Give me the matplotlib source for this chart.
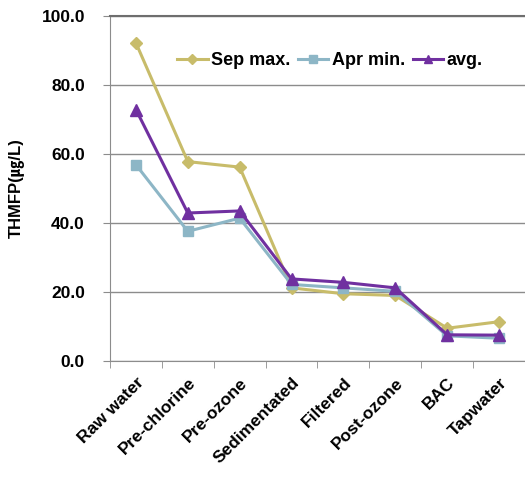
import matplotlib
matplotlib.use("Agg")
import matplotlib.pyplot as plt
import numpy as np

categories = ["Raw water", "Pre-chlorine", "Pre-ozone", "Sedimentated",
              "Filtered", "Post-ozone", "BAC", "Tapwater"]
sep_max = [92.2, 57.8, 56.2, 21.2, 19.5, 19.0, 9.5, 11.4]
apr_min = [56.9, 37.6, 41.4, 22.2, 21.2, 20.2, 7.3, 6.6]
avg = [72.9, 42.9, 43.5, 23.8, 22.8, 21.2, 7.6, 7.5]
yticks = [0, 20, 40, 60, 80, 100]

plt.rcParams['font.family'] = ['Liberation Sans', 'Noto Sans CJK KR', 'DejaVu Sans']

fig = plt.figure(figsize=(5.25, 4.79), dpi=100)
ax = fig.add_axes([0.2095, 0.2463, 0.7905, 0.7203])

x = np.arange(len(categories))
ax.plot(x, sep_max, color="#C8BC6A", lw=2.2, marker="D", ms=6, label="Sep max.", zorder=3)
ax.plot(x, apr_min, color="#8DB6C6", lw=2.2, marker="s", ms=7, label="Apr min.", zorder=3)
ax.plot(x, avg, color="#7030A0", lw=2.2, marker="^", ms=8, label="avg.", zorder=4)

ax.set_xlim(-0.5, len(categories) - 0.5)
ax.set_ylim(0, 100)
ax.set_yticks(yticks)
ax.set_yticklabels([f"{v:.1f}" for v in yticks], fontsize=12.5, fontweight="bold")
ax.yaxis.grid(True, color="#8C8C8C", lw=1)
ax.set_axisbelow(True)

ax.set_xticks(x)
ax.set_xticklabels(categories, rotation=45, ha="right", rotation_mode="anchor",
                   fontsize=12.5, fontweight="bold")
ax.tick_params(axis="x", which="major", length=0, pad=10)
ax.set_xticks(np.arange(-0.5, len(categories) - 0.4, 1), minor=True)
ax.tick_params(axis="x", which="minor", length=5, color="#8C8C8C", direction="out")
ax.tick_params(axis="y", length=5, color="#8C8C8C", direction="out", pad=13)

ax.spines["right"].set_visible(False)
ax.spines["top"].set_color("#6E6E6E")
ax.spines["top"].set_linewidth(1.5)
ax.spines["left"].set_color("#8C8C8C")
ax.spines["bottom"].set_color("#8C8C8C")

ax.set_ylabel("THMFP(\u338d/L)", fontsize=12, fontweight="bold", labelpad=12)

leg = ax.legend(loc="center", bbox_to_anchor=(0.53, 0.87), ncol=3, frameon=False,
                prop={"size": 13, "weight": "bold"}, handlelength=1.7,
                handletextpad=0.2, columnspacing=0.4, borderaxespad=0,
                markerscale=0.8)

fig.savefig("out.png", dpi=100)
